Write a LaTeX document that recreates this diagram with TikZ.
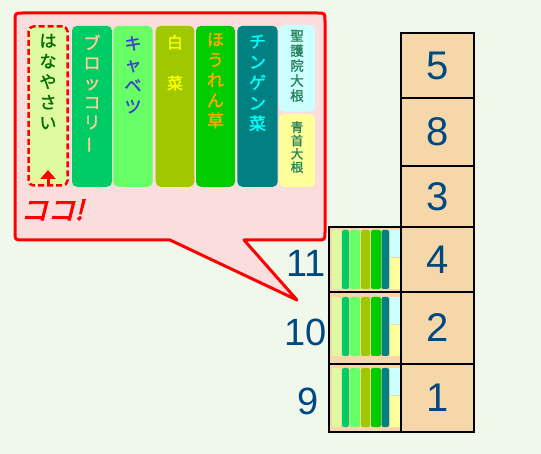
\documentclass[tikz,border=0pt]{standalone}
\usepackage{fontspec}
\setmainfont{Liberation Sans}
\newfontfamily\cjk[FakeBold=1.5]{Noto Sans CJK JP}
\newfontfamily\cjkbold[FakeBold=3.5,FakeSlant=0.25]{Noto Sans CJK JP}
\usepackage{graphicx}
\usepackage{tikz}
\usetikzlibrary{positioning, arrows.meta}

\definecolor{bgcol}{RGB}{240,248,235}
\definecolor{bubblecol}{RGB}{250,222,222}
\definecolor{tanfill}{RGB}{245,215,170}
\definecolor{numblue}{RGB}{0,72,128}
\definecolor{hanabg}{RGB}{222,250,160}
\definecolor{brocbg}{RGB}{0,204,102}
\definecolor{cabbg}{RGB}{102,255,102}
\definecolor{hakubg}{RGB}{160,200,0}
\definecolor{spinbg}{RGB}{0,204,0}
\definecolor{chinbg}{RGB}{0,128,128}
\definecolor{shogobg}{RGB}{204,255,255}
\definecolor{aokbg}{RGB}{255,255,153}
\definecolor{hanatext}{RGB}{0,110,0}
\definecolor{broctext}{RGB}{255,204,153}
\definecolor{cabtext}{RGB}{64,64,200}
\definecolor{hakutext}{RGB}{255,255,0}
\definecolor{spintext}{RGB}{255,170,0}
\definecolor{chintext}{RGB}{0,255,255}
\definecolor{daikontext}{RGB}{40,130,90}

\begin{document}
\begin{tikzpicture}[x=1pt, y=-1pt,
    cell/.style={draw, line width=2.5pt, fill=tanfill, minimum width=73, inner sep=0, font=\fontsize{40}{44}\selectfont, text=numblue},
    shelf/.style={draw, line width=2.5pt, fill=tanfill, minimum width=72, inner sep=0},
    lbl/.style={inner sep=0, font=\fontsize{38}{40}\selectfont, text=numblue},
    panel/.style={rounded corners=5, minimum height=161, inner sep=0},
    tate/.style={align=center, inner sep=0},
    strip/.style={rounded corners=2},
]
\useasboundingbox (0,0) rectangle (541,454);
\fill[bgcol] (0,0) rectangle (541,454);

% speech bubble
\filldraw[draw=red, fill=bubblecol, line width=3pt, line join=round]
    (297,300) -- (244,240) -- (317,240) .. controls (325,240) .. (325,232)
    -- (325,21) .. controls (325,13) .. (317,13)
    -- (23,13) .. controls (15,13) .. (15,21)
    -- (15,232) .. controls (15,240) .. (23,240)
    -- (170,240) -- cycle;

% shelves in the bubble
\node[panel, draw=red, dashed, dash pattern=on 6pt off 3pt, line width=2.5pt, fill=hanabg, minimum width=39, minimum height=159] (hana) at (48,106) {};
\node[panel, fill=brocbg, minimum width=40] (broc) at (92,106.3) {};
\node[panel, fill=cabbg, minimum width=39.4] (cab) at (133,106.3) {};
\node[panel, fill=hakubg, minimum width=38.6] (haku) at (175,106.3) {};
\node[panel, fill=spinbg, minimum width=39] (spin) at (215.5,106.3) {};
\node[panel, fill=chinbg, minimum width=40.4] (chin) at (257.5,106.3) {};
\node[panel, fill=shogobg, minimum width=36, minimum height=86.7] (shogo) at (297,68.3) {};
\node[panel, fill=aokbg, minimum width=36, minimum height=73] (aok) at (297,150.5) {};

\node[tate, below=8.5pt of hana.north, text=hanatext, font=\cjk\fontsize{17}{20.5}\selectfont] (hanat) {は\\な\\や\\さ\\い};
\node[tate, below=9pt of broc.north, text=broctext, font=\cjk\fontsize{17}{19.8}\selectfont] (broct) {ブ\\ロ\\ッ\\コ\\リ\\\rotatebox[origin=c]{90}{ー}};
\node[tate, below=10.5pt of cab.north, text=cabtext, font=\cjk\fontsize{17}{21}\selectfont] (cabt) {キ\\ャ\\ベ\\ツ};
\node[tate, below=9pt of haku.north, text=hakutext, font=\cjk\fontsize{16}{20.5}\selectfont] (hakut) {白\\[20.5pt]菜};
\node[tate, below=7pt of spin.north, text=spintext, font=\cjk\fontsize{17}{20.3}\selectfont] (spint) {ほ\\う\\れ\\ん\\草};
\node[tate, below=9pt of chin.north, text=chintext, font=\cjk\fontsize{17}{20.5}\selectfont] (chint) {チ\\ン\\ゲ\\ン\\菜};
\node[tate, below=5pt of shogo.north, text=daikontext, font=\cjk\fontsize{13.5}{15}\selectfont] (shogot) {聖\\護\\院\\大\\根};
\node[tate, below=7.5pt of aok.north, text=daikontext, font=\cjk\fontsize{12.5}{13.3}\selectfont] (aokt) {青\\首\\大\\根};

\coordinate (arrbot) at (48,186);
\coordinate (arrtop) at (48,170);
\draw[red, line width=3pt, -{Triangle[width=15pt, length=9pt]}] (arrbot) -- (arrtop);
\node[inner sep=0, text=red, font=\cjkbold\fontsize{27}{27}\selectfont] (koko) at (52,210) {ココ!};

% store shelves
\node[cell, minimum height=65] (c5) at (437.5,65.5) {5};
\node[cell, minimum height=68] (c8) at (437.5,132) {8};
\node[cell, minimum height=61] (c3) at (437.5,196.5) {3};
\node[cell, minimum height=65] (c4) at (437.5,259.5) {4};
\node[cell, minimum height=72] (c2) at (437.5,328) {2};
\node[cell, minimum height=68] (c1) at (437.5,398) {1};

\node[shelf, minimum height=65] (s11) at (365,259.5) {};
\node[shelf, minimum height=72] (s10) at (365,328) {};
\node[shelf, minimum height=68] (s9) at (365,398) {};

\foreach \t in {230,297,368} {
  \fill[strip, hanabg] (332,\t) rectangle (341,\t+59);
  \fill[strip, brocbg] (342,\t) rectangle (349,\t+59);
  \fill[strip, cabbg] (350,\t) rectangle (360,\t+59);
  \fill[strip, hakubg] (361,\t) rectangle (370,\t+59);
  \fill[strip, spinbg] (371,\t) rectangle (381,\t+59);
  \fill[strip, chinbg] (381.5,\t) rectangle (389,\t+59);
  \fill[shogobg] (390,\t) rectangle (399.5,\t+27);
  \fill[aokbg] (390,\t+28) rectangle (399.5,\t+59);
}

\node[lbl] (l11) at (306,263.5) {11};
\node[lbl] (l10) at (306,332) {10};
\node[lbl] (l9) at (308.5,401) {9};
\end{tikzpicture}
\end{document}
